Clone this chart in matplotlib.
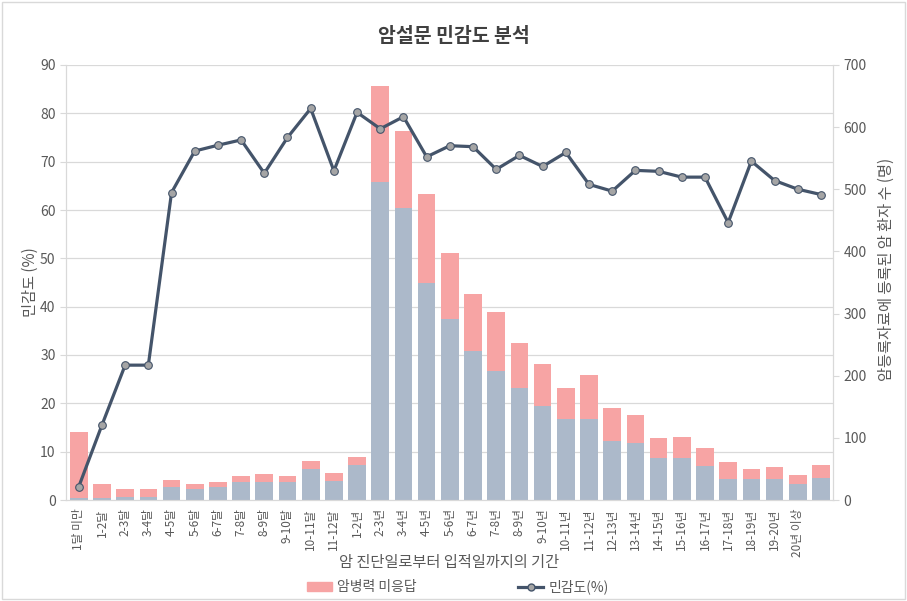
import matplotlib
matplotlib.use('Agg')
import matplotlib.pyplot as plt
from matplotlib.patches import Rectangle
from matplotlib.lines import Line2D
from matplotlib.patches import Patch
import numpy as np

plt.rcParams['font.family'] = ['Noto Sans CJK KR', 'DejaVu Sans']

# 기간 구분 (마지막 막대는 라벨 없음)
periods = ['1달 미만', '1-2달', '2-3달', '3-4달', '4-5달', '5-6달', '6-7달', '7-8달',
           '8-9달', '9-10달', '10-11달', '11-12달', '1-2년', '2-3년', '3-4년', '4-5년',
           '5-6년', '6-7년', '7-8년', '8-9년', '9-10년', '10-11년', '11-12년', '12-13년',
           '13-14년', '14-15년', '15-16년', '16-17년', '17-18년', '18-19년', '19-20년',
           '20년 이상', '']

# 암 환자 수 (명) - 응답
answered = [3, 4, 5, 5, 21, 18, 21, 29, 29, 29, 50, 30, 56, 512, 470, 349,
            291, 240, 207, 180, 152, 130, 130, 95, 92, 67, 68, 55, 34, 34, 34, 26, 36]
# 암병력 미응답
no_answer = [107, 22, 13, 13, 11, 7, 8, 10, 13, 10, 13, 14, 14, 155, 124, 143,
             107, 92, 96, 72, 67, 50, 71, 53, 44, 33, 33, 29, 27, 16, 19, 15, 20]

# 민감도 (%)
sensitivity = [2.75, 15.5, 27.9, 27.9, 63.6, 72.2, 73.4, 74.5, 67.6, 75.0, 81.0,
               68.1, 80.2, 76.8, 79.3, 71.0, 73.3, 73.1, 68.4, 71.3, 69.0, 71.9,
               65.3, 63.9, 68.2, 68.0, 66.8, 66.8, 57.4, 70.1, 66.1, 64.3, 63.2]

blue = '#ACB9CA'
pink = '#F7A4A4'
dark = '#44546A'
txt = '#595959'
grid_c = '#D9D9D9'

x = np.arange(len(periods))

fig = plt.figure(figsize=(9.07, 6.01), dpi=100)
ax_bar = fig.add_axes([66/907, 1-500/601, (833-66)/907, 435/601])
ax_line = ax_bar.twinx()

# 막대: 오른쪽 축 (명)
ax_bar.bar(x, answered, width=0.76, color=blue, zorder=2)
ax_bar.bar(x, no_answer, width=0.76, bottom=answered, color=pink, zorder=2)
ax_bar.set_ylim(0, 700)
ax_bar.set_yticks(np.arange(0, 701, 100))
ax_bar.yaxis.tick_right()
ax_bar.yaxis.set_label_position('right')
for g in np.linspace(0, 700, 10)[1:]:
    ax_bar.axhline(g, color=grid_c, lw=0.9, zorder=0)

# 선: 왼쪽 축 (%)
ax_line.plot(x, sensitivity, '-o', color=dark, lw=2.3, ms=5.5,
             mfc='#A5A5A5', mec=dark, mew=0.8, zorder=3)
ax_line.set_ylim(0, 90)
ax_line.set_yticks(np.arange(0, 91, 10))
ax_line.yaxis.tick_left()
ax_line.yaxis.set_label_position('left')

ax_bar.set_xlim(-0.55, 32.52)
ax_bar.set_xticks(x)
ax_bar.set_xticklabels(periods, rotation=90, fontsize=8.5, color=txt)

for a in (ax_bar, ax_line):
    a.tick_params(axis='y', labelsize=10, colors=txt, length=4, color=grid_c)
    a.tick_params(axis='x', length=0, pad=6)
    a.spines['top'].set_visible(False)
    for s in ('left', 'right', 'bottom'):
        a.spines[s].set_color(grid_c)

ax_bar.set_xlabel('암 진단일로부터 입적일까지의 기간', fontsize=11, color=txt)
ax_bar.xaxis.set_label_coords(0.5, -0.125)
ax_line.set_ylabel('민감도 (%)', fontsize=11, color=txt)
ax_line.yaxis.set_label_coords(-0.036, 0.5)
ax_bar.set_ylabel('암등록자료에 등록된 암 환자 수 (명)', fontsize=11, color=txt, rotation=90)
ax_bar.yaxis.set_label_coords(1.058, 0.53)

fig.text(0.5, 1-37/601, '암설문 민감도 분석', ha='center', va='center',
         fontsize=14, fontweight='bold', color='#404040')

handles = [Patch(color=pink), Line2D([], [], color=dark, lw=2.3, marker='o', ms=5,
                                      mfc='#A5A5A5', mec=dark)]
fig.legend(handles, ['암병력 미응답', '민감도(%)'], loc='center',
           bbox_to_anchor=(0.505, 1-587/601), ncol=2, frameon=False,
           fontsize=10, columnspacing=7.3, handlelength=1.8, handletextpad=0.4,
           labelcolor=txt)

fig.patches.append(Rectangle((0.002, 0.003), 0.996, 0.994, transform=fig.transFigure,
                             fill=False, edgecolor=grid_c, lw=1))

fig.savefig('out.png', dpi=100)
